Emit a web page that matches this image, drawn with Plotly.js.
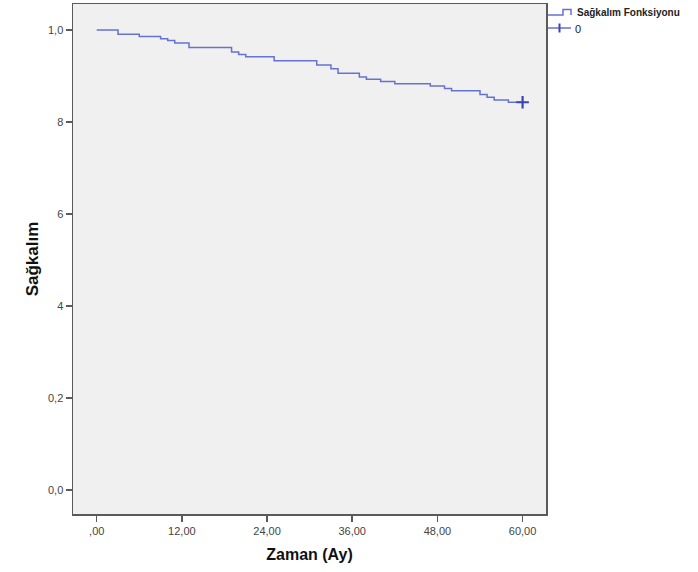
<!DOCTYPE html>
<html>
<head>
<meta charset="utf-8">
<script src="https://cdn.plot.ly/plotly-3.0.1.min.js"></script>
<style>html,body{margin:0;padding:0;background:#fff;}#chart{width:698px;height:572px;}</style>
</head>
<body>
<div id="chart"></div>
<script>
// Step times (months) and survival values
const times = [0, 3, 6, 9, 10, 11, 13, 19, 20, 21, 25, 31, 33, 34, 37, 38, 40, 42, 47, 49, 50, 54, 55, 56, 58, 60];
const survival = [1.0, 0.991, 0.986, 0.981, 0.977, 0.972, 0.962, 0.952, 0.947, 0.942, 0.933, 0.924, 0.916, 0.906, 0.898, 0.893, 0.888, 0.883, 0.878, 0.873, 0.868, 0.860, 0.854, 0.848, 0.843, 0.843];
const censorTimes = [60];
const censorSurvival = [0.843];

const yTickVals = [0, 0.2, 0.4, 0.6, 0.8, 1.0];
const yTickText = ["0,0", "0,2", "4", "6", "8", "1,0"];
const xTickVals = [0, 12, 24, 36, 48, 60];
const xTickText = [",00", "12,00", "24,00", "36,00", "48,00", "60,00"];
const legendNames = ["Sağkalım Fonksiyonu", "0"];

const W = 698, H = 572;
const M = {l: 73, r: 152, t: 4, b: 58};
const PW = W - M.l - M.r, PH = H - M.t - M.b;
// pixel -> paper coordinate helpers (for the hand-drawn legend)
const px = v => (v - M.l) / PW;
const py = v => (H - M.b - v) / PH;

const lineColor = '#6672d2';
const markColor = '#3a45b5';
const font = 'Liberation Sans, Arial, sans-serif';

const traces = [
  {
    x: times, y: survival, type: 'scatter', mode: 'lines',
    line: {shape: 'hv', color: lineColor, width: 1.5},
    name: legendNames[0], hoverinfo: 'skip'
  },
  {
    x: censorTimes, y: censorSurvival, type: 'scatter', mode: 'markers',
    marker: {symbol: 'cross-thin', size: 9, color: markColor, line: {width: 2.2, color: markColor}},
    name: legendNames[1], hoverinfo: 'skip'
  }
];

const axisCommon = {
  showgrid: false, zeroline: false, showline: true, mirror: true,
  linecolor: '#5a5a5a', linewidth: 1.5,
  ticks: 'outside', ticklen: 6, tickwidth: 1.5, tickcolor: '#5a5a5a',
  tickmode: 'array',
  tickfont: {family: font, size: 11, color: '#444'}
};

const shapes = [
  // legend icon 1: step line
  {type: 'path', xref: 'paper', yref: 'paper',
   path: `M ${px(548)} ${py(15)} L ${px(563)} ${py(15)} L ${px(563)} ${py(9.5)} L ${px(571)} ${py(9.5)} L ${px(571)} ${py(15)}`,
   line: {color: lineColor, width: 1.5}},
  // legend icon 2: line with cross
  {type: 'line', xref: 'paper', yref: 'paper', x0: px(548), x1: px(571), y0: py(28), y1: py(28),
   line: {color: lineColor, width: 1.5}},
  {type: 'line', xref: 'paper', yref: 'paper', x0: px(559.5), x1: px(559.5), y0: py(23.5), y1: py(32.5),
   line: {color: markColor, width: 2}}
];

const annotations = [
  {xref: 'paper', yref: 'paper', x: px(575), y: py(12), xanchor: 'left', yanchor: 'middle',
   text: legendNames[0], showarrow: false,
   font: {family: font, size: 10, color: '#222', weight: 'bold'}},
  {xref: 'paper', yref: 'paper', x: px(573), y: py(28.5), xanchor: 'left', yanchor: 'middle',
   text: legendNames[1], showarrow: false,
   font: {family: font, size: 11, color: '#222'}}
];

const layout = {
  width: W, height: H,
  margin: M,
  paper_bgcolor: '#ffffff',
  plot_bgcolor: '#f0f0f0',
  showlegend: false,
  shapes: shapes,
  annotations: annotations,
  xaxis: Object.assign({}, axisCommon, {
    range: [-3.34, 63.3],
    tickvals: xTickVals, ticktext: xTickText,
    title: {text: 'Zaman (Ay)', standoff: 13,
      font: {family: font, size: 16, color: '#111', weight: 'bold'}}
  }),
  yaxis: Object.assign({}, axisCommon, {
    range: [-0.052, 1.0565],
    tickvals: yTickVals, ticktext: yTickText,
    title: {text: 'Sağkalım', standoff: 5,
      font: {family: font, size: 17, color: '#111', weight: 'bold'}}
  })
};

Plotly.newPlot('chart', traces, layout, {displayModeBar: false, staticPlot: true});
</script>
</body>
</html>
